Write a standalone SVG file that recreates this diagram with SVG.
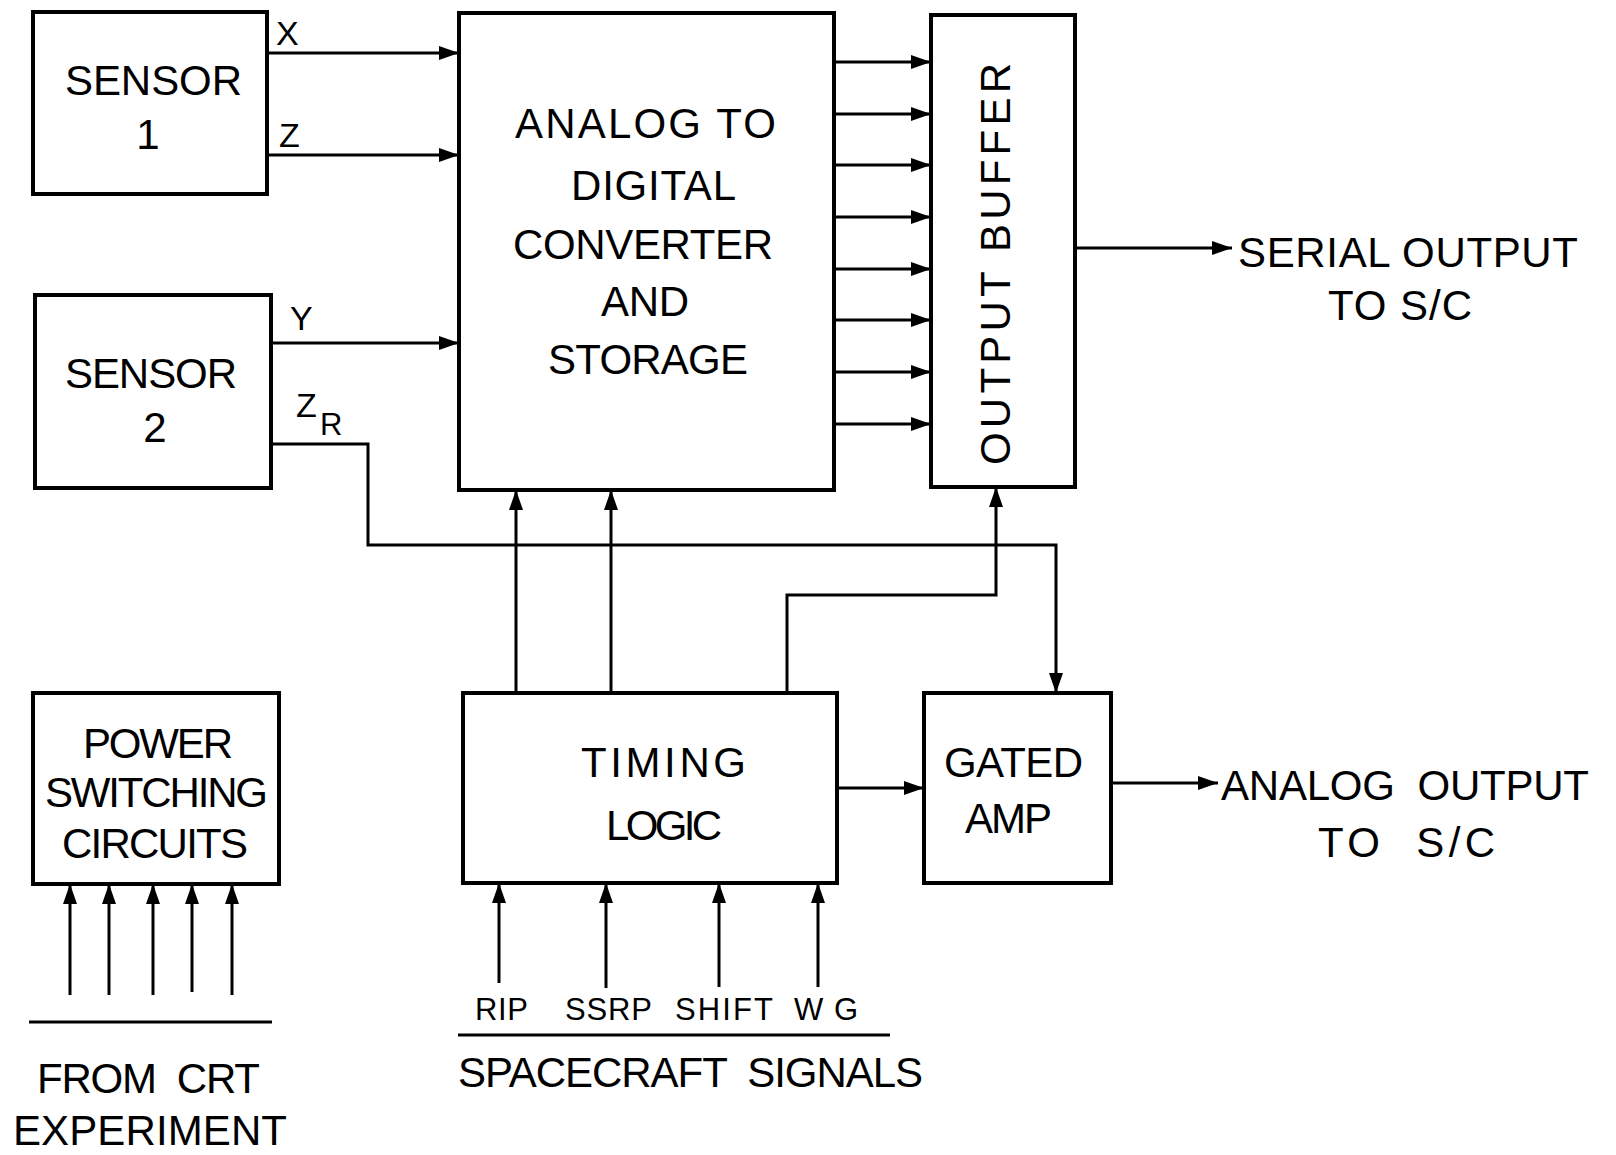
<svg xmlns="http://www.w3.org/2000/svg" width="1616" height="1155" viewBox="0 0 1616 1155">
<style>
.box{fill:none;stroke:#000;stroke-width:4}
.ln{fill:none;stroke:#000;stroke-width:3}
.arr{marker-end:url(#ah)}
text{font-family:"Liberation Sans",Arial,sans-serif;fill:#000;white-space:pre}
.t{font-size:42px}
.s{font-size:34px}
.sig{font-size:31px}
</style>
<defs>
<marker id="ah" markerUnits="userSpaceOnUse" markerWidth="22" markerHeight="16" refX="20" refY="7" orient="auto">
<path d="M0,0 L20,7 L0,14 z" fill="#000"/>
</marker>
</defs>
<rect width="1616" height="1155" fill="#fff"/>

<g id="sensor1">
<rect class="box" x="33" y="12" width="234" height="182"/>
<text class="t" x="65" y="95" textLength="177" lengthAdjust="spacing">SENSOR</text>
<text class="t" x="148" y="149" text-anchor="middle">1</text>
</g>
<g id="sensor2">
<rect class="box" x="35" y="295" width="236" height="193"/>
<text class="t" x="65" y="388" textLength="172" lengthAdjust="spacing">SENSOR</text>
<text class="t" x="155" y="442" text-anchor="middle">2</text>
</g>
<g id="adc">
<rect class="box" x="459" y="13" width="375" height="477"/>
<text class="t" x="515" y="138" textLength="261" lengthAdjust="spacing">ANALOG TO</text>
<text class="t" x="571" y="200" textLength="165" lengthAdjust="spacing">DIGITAL</text>
<text class="t" x="513" y="259" textLength="260" lengthAdjust="spacing">CONVERTER</text>
<text class="t" x="601" y="316" textLength="88" lengthAdjust="spacing">AND</text>
<text class="t" x="548" y="374" textLength="200" lengthAdjust="spacing">STORAGE</text>
</g>
<g id="output-buffer">
<rect class="box" x="931" y="15" width="144" height="472"/>
<text class="t" transform="translate(1010,465) rotate(-90)" x="0" y="0" textLength="402" lengthAdjust="spacing">OUTPUT BUFFER</text>
</g>
<g id="timing-logic">
<rect class="box" x="463" y="693" width="374" height="190"/>
<text class="t" x="581" y="777" textLength="165" lengthAdjust="spacing">TIMING</text>
<text class="t" x="606" y="840" textLength="116" lengthAdjust="spacing">LOGIC</text>
</g>
<g id="gated-amp">
<rect class="box" x="924" y="693" width="187" height="190"/>
<text class="t" x="944" y="777" textLength="139" lengthAdjust="spacing">GATED</text>
<text class="t" x="965" y="833" textLength="87" lengthAdjust="spacing">AMP</text>
</g>
<g id="power-switching">
<rect class="box" x="33" y="693" width="246" height="191"/>
<text class="t" x="83" y="758" textLength="150" lengthAdjust="spacing">POWER</text>
<text class="t" x="45" y="807" textLength="223" lengthAdjust="spacing">SWITCHING</text>
<text class="t" x="62" y="858" textLength="186" lengthAdjust="spacing">CIRCUITS</text>
</g>
<g id="crt-source">
<line class="ln" x1="29" y1="1022" x2="272" y2="1022"/>
<text class="t" x="37" y="1093" textLength="223" lengthAdjust="spacing">FROM  CRT</text>
<text class="t" x="13" y="1145" textLength="274" lengthAdjust="spacing">EXPERIMENT</text>
</g>
<g id="spacecraft-signals">
<text class="sig" x="475" y="1020" textLength="53" lengthAdjust="spacing">RIP</text>
<text class="sig" x="565" y="1020" textLength="87" lengthAdjust="spacing">SSRP</text>
<text class="sig" x="675" y="1020" textLength="98" lengthAdjust="spacing">SHIFT</text>
<text class="sig" x="794" y="1020" textLength="64" lengthAdjust="spacing">WG</text>
<line class="ln" x1="458" y1="1035" x2="890" y2="1035"/>
<text class="t" x="458" y="1087" textLength="465" lengthAdjust="spacing">SPACECRAFT  SIGNALS</text>
</g>
<g id="serial-output">
<text class="t" x="1238" y="267" textLength="340" lengthAdjust="spacing">SERIAL OUTPUT</text>
<text class="t" x="1328" y="320" textLength="144" lengthAdjust="spacing">TO S/C</text>
</g>
<g id="analog-output">
<text class="t" x="1221" y="800" textLength="368" lengthAdjust="spacing">ANALOG  OUTPUT</text>
<text class="t" x="1318" y="857" textLength="177" lengthAdjust="spacing">TO  S/C</text>
</g>

<g id="connectors">
<path class="ln arr" d="M267,53 H459"/>
<path class="ln arr" d="M267,155 H459"/>
<path class="ln arr" d="M271,343 H459"/>
<path class="ln arr" d="M271,444 H368 V545 H1056 V693"/>
<path class="ln arr" d="M834,62 H931"/>
<path class="ln arr" d="M834,114 H931"/>
<path class="ln arr" d="M834,165 H931"/>
<path class="ln arr" d="M834,217 H931"/>
<path class="ln arr" d="M834,269 H931"/>
<path class="ln arr" d="M834,320 H931"/>
<path class="ln arr" d="M834,372 H931"/>
<path class="ln arr" d="M834,424 H931"/>
<path class="ln arr" d="M1075,248 H1232"/>
<path class="ln arr" d="M516,693 V490"/>
<path class="ln arr" d="M611,693 V490"/>
<path class="ln arr" d="M787,693 V595 H996 V487"/>
<path class="ln arr" d="M837,788 H924"/>
<path class="ln arr" d="M1111,783 H1218"/>
<path class="ln arr" d="M70,995 V884"/>
<path class="ln arr" d="M109,995 V884"/>
<path class="ln arr" d="M153,995 V884"/>
<path class="ln arr" d="M192,992 V884"/>
<path class="ln arr" d="M232,995 V884"/>
<path class="ln arr" d="M499,983 V883"/>
<path class="ln arr" d="M606,988 V883"/>
<path class="ln arr" d="M719,987 V883"/>
<path class="ln arr" d="M818,987 V883"/>
<text class="s" x="276" y="45">X</text>
<text class="s" x="279" y="147">Z</text>
<text class="s" x="290" y="330">Y</text>
<text class="s" x="296" y="417">Z</text>
<text class="sig" x="320" y="435">R</text>
</g>
</svg>
